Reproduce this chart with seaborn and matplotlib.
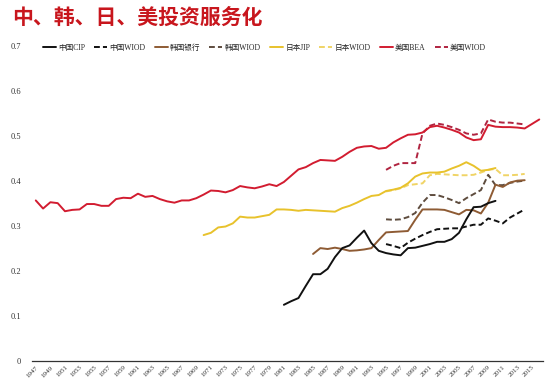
import numpy as np
import pandas as pd
import matplotlib
matplotlib.use('Agg')
import matplotlib.pyplot as plt
import seaborn as sns

# Series values (share of services in investment)
us_bea_years = list(range(1947, 2017))
us_bea = [0.356, 0.338, 0.352, 0.350, 0.332, 0.335, 0.336, 0.348, 0.348, 0.344,
          0.344, 0.359, 0.362, 0.361, 0.371, 0.364, 0.366, 0.359, 0.354, 0.351,
          0.356, 0.356, 0.361, 0.369, 0.378, 0.377, 0.374, 0.379, 0.388, 0.385,
          0.383, 0.387, 0.392, 0.388, 0.397, 0.411, 0.425, 0.430, 0.439, 0.446,
          0.445, 0.444, 0.453, 0.464, 0.473, 0.476, 0.477, 0.471, 0.473, 0.485,
          0.494, 0.502, 0.503, 0.507, 0.519, 0.522, 0.518, 0.513, 0.507, 0.496,
          0.490, 0.492, 0.524, 0.520, 0.519, 0.519, 0.518, 0.516, 0.526, 0.536]

wiod_years = list(range(1995, 2015))
us_wiod = [0.424, 0.433, 0.439, 0.439, 0.439, 0.505, 0.522, 0.527, 0.524, 0.519,
           0.513, 0.505, 0.502, 0.505, 0.536, 0.531, 0.529, 0.529, 0.527, 0.525]

jp_jip_years = list(range(1970, 2011))
jp_jip = [0.279, 0.284, 0.296, 0.298, 0.305, 0.320, 0.318, 0.318, 0.321, 0.324,
          0.336, 0.336, 0.335, 0.333, 0.335, 0.334, 0.333, 0.332, 0.331, 0.339,
          0.344, 0.351, 0.359, 0.366, 0.368, 0.377, 0.380, 0.384, 0.394, 0.409,
          0.416, 0.418, 0.418, 0.420, 0.427, 0.433, 0.441, 0.433, 0.422, 0.424,
          0.428]
jp_wiod = [0.376, 0.379, 0.383, 0.390, 0.392, 0.394, 0.412, 0.415, 0.414, 0.413,
           0.412, 0.412, 0.413, 0.418, 0.424, 0.426, 0.412, 0.412, 0.413, 0.415]

kr_bank_years = list(range(1985, 2015))
kr_bank = [0.237, 0.250, 0.248, 0.251, 0.248, 0.244, 0.245, 0.247, 0.250, 0.268,
           0.285, 0.286, 0.287, 0.288, 0.313, 0.336, 0.336, 0.336, 0.335, 0.330,
           0.325, 0.335, 0.334, 0.327, 0.351, 0.391, 0.386, 0.396, 0.400, 0.401]
kr_wiod = [0.314, 0.313, 0.314, 0.319, 0.328, 0.351, 0.368, 0.368, 0.363, 0.357,
           0.350, 0.361, 0.370, 0.379, 0.413, 0.390, 0.390, 0.395, 0.398, 0.400]

cn_cip_years = list(range(1981, 2011))
cn_cip = [0.124, 0.132, 0.139, 0.166, 0.192, 0.192, 0.204, 0.230, 0.250, 0.256,
          0.273, 0.289, 0.261, 0.244, 0.239, 0.236, 0.234, 0.250, 0.251, 0.255,
          0.259, 0.264, 0.264, 0.270, 0.284, 0.314, 0.341, 0.342, 0.350, 0.355]
cn_wiod = [0.259, 0.255, 0.250, 0.262, 0.271, 0.279, 0.286, 0.292, 0.293, 0.294,
           0.294, 0.298, 0.302, 0.302, 0.316, 0.311, 0.305, 0.318, 0.327, 0.336]

tick_years = list(range(1947, 2016, 2))
y_ticks = [0, 0.1, 0.2, 0.3, 0.4, 0.5, 0.6, 0.7]
y_tick_labels = ['0', '0.1', '0.2', '0.3', '0.4', '0.5', '0.6', '0.7']

sns.set_style('white')
plt.rcParams['font.family'] = ['Liberation Serif', 'Noto Sans CJK SC', 'DejaVu Sans']

fig = plt.figure(figsize=(5.54, 3.84), dpi=100)
ax = fig.add_axes([0.058, 0.061, 0.922, 0.820])

# label, years, values, color, dashed
series = [
    ('中国CIP', cn_cip_years, cn_cip, '#111111', False),
    ('中国WIOD', wiod_years, cn_wiod, '#111111', True),
    ('韩国银行', kr_bank_years, kr_bank, '#8e5b34', False),
    ('韩国WIOD', wiod_years, kr_wiod, '#5e4c3e', True),
    ('日本JIP', jp_jip_years, jp_jip, '#e8c22c', False),
    ('日本WIOD', wiod_years, jp_wiod, '#f0d466', True),
    ('美国BEA', us_bea_years, us_bea, '#d21c30', False),
    ('美国WIOD', wiod_years, us_wiod, '#b02440', True),
]

# draw US first so the other lines sit on top, like the original
for label, yrs, vals, color, dashed in series[::-1]:
    df = pd.DataFrame({'year': yrs, 'value': vals})
    line_ax = sns.lineplot(data=df, x='year', y='value', ax=ax, color=color,
                           linewidth=1.4, label=label)
    line = line_ax.lines[-1]
    if dashed:
        line.set_dashes((3, 1.6))

handles, labels = ax.get_legend_handles_labels()
order = [labels.index(s[0]) for s in series]
ax.legend([handles[i] for i in order], [labels[i] for i in order],
          loc='center left', bbox_to_anchor=(0.077, 0.876),
          bbox_transform=fig.transFigure, ncol=8, frameon=False, borderpad=0,
          borderaxespad=0, fontsize=5.5, handlelength=1.7, handletextpad=0.3,
          columnspacing=1.2)

ax.set_xlim(1946.5, 2016.5)
ax.set_ylim(0, 0.7)
ax.set_xticks(tick_years)
ax.set_xticklabels([str(y) for y in tick_years], rotation=45, ha='right',
                   rotation_mode='anchor', fontsize=5, color='#333333')
ax.set_yticks(y_ticks)
ax.set_yticklabels(y_tick_labels, fontsize=6, color='#333333')
ax.tick_params(axis='both', length=0)
ax.tick_params(axis='y', pad=8)
ax.tick_params(axis='x', pad=3)
ax.set_xlabel('')
ax.set_ylabel('')
for side in ['left', 'right', 'top']:
    ax.spines[side].set_visible(False)
ax.spines['bottom'].set_color('#333333')
ax.spines['bottom'].set_linewidth(0.9)

fig.text(0.022, 0.955, '中、韩、日、美投资服务化', color='#c8161d', fontsize=15,
         fontweight='bold', va='center', ha='left',
         family=['Noto Sans CJK SC', 'DejaVu Sans'])

fig.savefig('out.png', dpi=100)
plt.close()
